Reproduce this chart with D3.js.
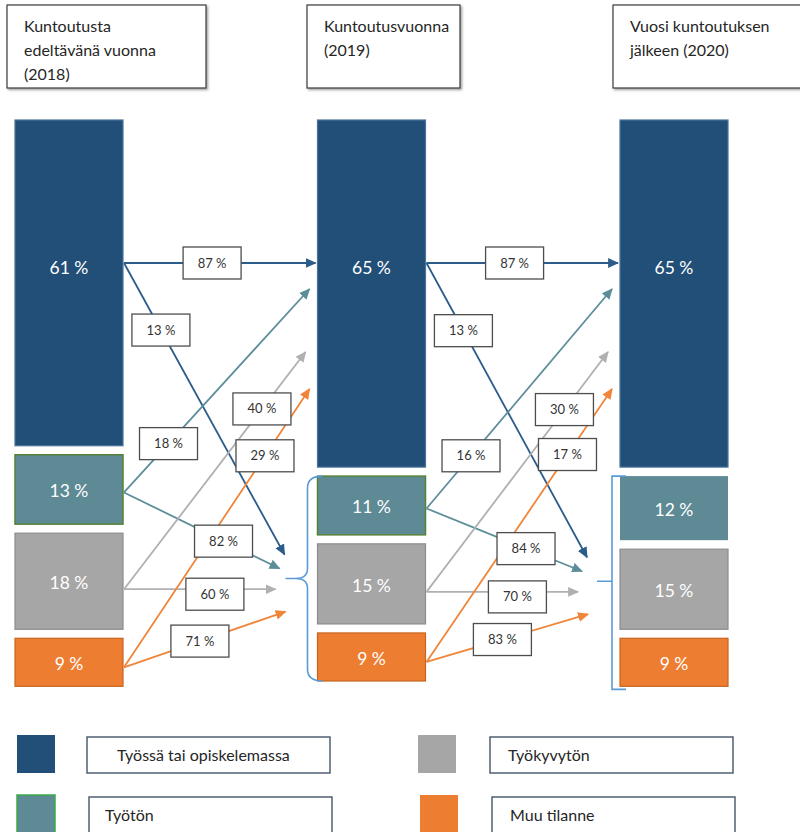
<!DOCTYPE html>
<html><head><meta charset="utf-8">
<script src="https://cdn.jsdelivr.net/npm/d3@7"></script>
<style>
html,body{margin:0;padding:0;background:#fff;}
svg{display:block;font-family:Lato,"Open Sans","Noto Sans",sans-serif;}
</style></head>
<body>
<svg id="chart" width="800" height="832"></svg>
<script>
// ---- data ----
const years = ["2018", "2019", "2020"];
const headers = [
  ["Kuntoutusta", "edeltävänä vuonna", "(2018)"],
  ["Kuntoutusvuonna", "(2019)"],
  ["Vuosi kuntoutuksen", "jälkeen (2020)"]
];
const categories = ["Työssä tai opiskelemassa", "Työtön", "Työkyvytön", "Muu tilanne"];
const shares2018 = [61, 13, 18, 9];
const shares2019 = [65, 11, 15, 9];
const shares2020 = [65, 12, 15, 9];
// share of each 2018 group going to work (2019) / to other groups (2019)
const toWork2019 = [87, 18, 40, 29];
const toOther2019 = [13, 82, 60, 71];
// share of each 2019 group going to work (2020) / to other groups (2020)
const toWork2020 = [87, 16, 30, 17];
const toOther2020 = [13, 84, 70, 83];

// ---- styles / layout ----
const fills = ["#214F78", "#5D8A95", "#A6A6A6", "#ED7D31"];
const strokes = ["#4A739B", "#548235", "#8C8C8C", "#C9651F"];
const arrowCols = ["#2C5C8A", "#5C8E9A", "#B0B0B0", "#F08539"];
const shareByYear = {"2018": shares2018, "2019": shares2019, "2020": shares2020};
const transitions = [
  {from: "2018", to: "2019", work: toWork2019, other: toOther2019},
  {from: "2019", to: "2020", work: toWork2020, other: toOther2020}
];
const barW = 108, barTop = 120, gap = 9, anchorOff = 143;
const srcOff = [0, 3, 8, 5];
const workEndDx = [-2, -8, -12, -8], workEndDy = [0, 26, 89, 126];
const otherEndDx = [-33, -38, -42, -32], otherEndDy = [-24, -10, null, 33];
const workT = [0.46, 0.24, 0.76, 0.76], otherT = [0.23, 0.64, 0.6, 0.47];

const svg = d3.select("#chart");
const x = d3.scalePoint().domain(years).range([15, 620]);
const h = d3.scaleLinear().domain([0, 100]).range([0, 534]);

// markers
const defs = svg.append("defs");
arrowCols.forEach((c, i) => {
  defs.append("marker").attr("id", "ah" + i)
    .attr("viewBox", "0 0 10 10").attr("refX", 9).attr("refY", 5)
    .attr("markerWidth", 11).attr("markerHeight", 11).attr("markerUnits", "userSpaceOnUse")
    .attr("orient", "auto")
    .append("path").attr("d", "M0,0.5 L10,5 L0,9.5 Z").attr("fill", c);
});
defs.append("filter").attr("id", "sh").attr("x", "-5%").attr("y", "-5%").attr("width", "115%").attr("height", "120%")
  .append("feDropShadow").attr("dx", 1.5).attr("dy", 1.5).attr("stdDeviation", 0.8).attr("flood-color", "#777").attr("flood-opacity", 0.7);

// header boxes
const headerBoxes = [{x: 7, w: 199}, {x: 307, w: 153}, {x: 613, w: 190}];
years.forEach((y, i) => {
  const b = headerBoxes[i];
  svg.append("rect").attr("x", b.x).attr("y", 5).attr("width", b.w).attr("height", 83)
    .attr("fill", "#fff").attr("stroke", "#3a3a3a").attr("stroke-width", 1.2).attr("filter", "url(#sh)");
  headers[i].forEach((line, j) => {
    svg.append("text").attr("x", b.x + 17).attr("y", 32 + j * 24)
      .attr("font-size", 16).attr("fill", "#262626").text(line);
  });
});

// bars
const layout = {};
years.forEach(y => {
  let cy = barTop;
  layout[y] = shareByYear[y].map((v, i) => {
    const r = {y0: cy, h: h(v), v, i};
    cy += h(v) + gap;
    return r;
  });
});
years.forEach((y, yi) => {
  const g = svg.append("g");
  g.selectAll("rect").data(layout[y]).join("rect")
    .attr("x", x(y)).attr("y", d => d.y0).attr("width", barW).attr("height", d => d.h)
    .attr("fill", d => fills[d.i])
    .attr("stroke", d => (d.i === 1 && yi === 2) ? "none" : strokes[d.i])
    .attr("stroke-width", d => d.i === 1 ? 1.5 : 1.2);
  g.selectAll("text").data(layout[y]).join("text")
    .attr("x", x(y) + barW / 2)
    .attr("y", d => d.i === 0 ? barTop + anchorOff + 11 : d.y0 + d.h / 2 + 8)
    .attr("text-anchor", "middle").attr("font-size", 17.5).attr("fill", "#fff")
    .text(d => d.v + " %");
});

function srcY(y, i) {
  const d = layout[y][i];
  return i === 0 ? barTop + anchorOff : d.y0 + d.h / 2 + srcOff[i];
}
function tipY(y) {
  const L = layout[y];
  return (L[1].y0 + L[3].y0 + L[3].h) / 2;
}

// brackets
[["2019", "curly"], ["2020", "square"]].forEach(([y, type]) => {
  const L = layout[y];
  const top = L[1].y0, bot = L[3].y0 + L[3].h, mid = tipY(y);
  const bx = x(y) - (type === "curly" ? 10 : 8);
  let d;
  if (type === "curly") {
    d = `M${bx + 15},${top} Q${bx},${top} ${bx},${top + 12} L${bx},${mid - 10} Q${bx},${mid} ${bx - 12},${mid} L${bx - 22},${mid}` +
        ` M${bx - 12},${mid} Q${bx},${mid} ${bx},${mid + 10} L${bx},${bot - 12} Q${bx},${bot} ${bx + 15},${bot}`;
  } else {
    d = `M${bx + 14},${top} L${bx},${top} L${bx},${bot + 3} L${bx + 14},${bot + 3} M${bx},${mid} L${bx - 15},${mid}`;
  }
  svg.append("path").attr("d", d).attr("fill", "none").attr("stroke", "#5B9BD5").attr("stroke-width", 1.6);
});

// flows
const labels = [];
transitions.forEach(tr => {
  const sx = x(tr.from) + barW + 1;
  categories.forEach((c, i) => {
    const sy = srcY(tr.from, i);
    const w = {x1: sx, y1: sy, x2: x(tr.to) + workEndDx[i], y2: barTop + anchorOff + workEndDy[i], i, v: tr.work[i], t: workT[i], dy: 0};
    const o = {x1: sx, y1: sy, x2: x(tr.to) + otherEndDx[i],
               y2: otherEndDy[i] === null ? sy : tipY(tr.to) + otherEndDy[i], i, v: tr.other[i], t: otherT[i],
               dy: otherEndDy[i] === null ? 5 : 0};
    [w, o].forEach(f => {
      svg.append("line").attr("x1", f.x1).attr("y1", f.y1).attr("x2", f.x2).attr("y2", f.y2)
        .attr("stroke", arrowCols[i]).attr("stroke-width", 1.8).attr("marker-end", `url(#ah${i})`);
      labels.push({cx: f.x1 + f.t * (f.x2 - f.x1), cy: f.y1 + f.t * (f.y2 - f.y1) + f.dy, v: f.v});
    });
  });
});
const lg = svg.append("g").selectAll("g").data(labels).join("g")
  .attr("transform", d => `translate(${d.cx},${d.cy})`);
lg.append("rect").attr("x", -29).attr("y", -16).attr("width", 58).attr("height", 32)
  .attr("fill", "#fff").attr("stroke", "#4d4d4d").attr("stroke-width", 1.3);
lg.append("text").attr("y", 4.5).attr("text-anchor", "middle").attr("font-size", 13).attr("fill", "#333")
  .text(d => d.v + " %");

// legend
const legPos = [{sx: 17, bx: 87, tx: 117, y: 735}, {sx: 17, bx: 89, tx: 105, y: 795},
                {sx: 418, bx: 490, tx: 508, y: 735}, {sx: 420, bx: 492, tx: 510, y: 795}];
categories.forEach((c, i) => {
  const p = legPos[i];
  svg.append("rect").attr("x", p.sx).attr("y", p.y).attr("width", 38).attr("height", 38)
    .attr("fill", fills[i]).attr("stroke", i === 1 ? "#3DAA4B" : "none").attr("stroke-width", 1.5);
  svg.append("rect").attr("x", p.bx).attr("y", p.y + 2).attr("width", 243).attr("height", 36)
    .attr("fill", "#fff").attr("stroke", "#44546A").attr("stroke-width", 1.4);
  svg.append("text").attr("x", p.tx).attr("y", p.y + 26).attr("font-size", 16).attr("fill", "#262626").text(c);
});
</script>
</body></html>
